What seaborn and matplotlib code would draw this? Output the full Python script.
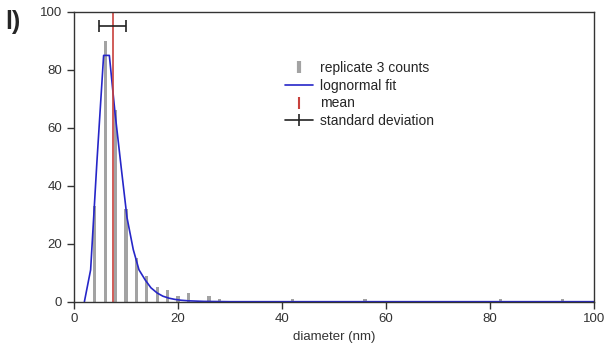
import numpy as np
import pandas as pd
import seaborn as sns
import matplotlib.pyplot as plt
from matplotlib.lines import Line2D

# histogram counts (replicate 3)
diam = [4, 6, 8, 10, 12, 14, 16, 18, 20, 22, 26, 28, 42, 56, 82, 94]
counts = [33, 90, 66, 32, 15, 9, 5, 4, 2, 3, 2, 1, 1, 1, 1, 1]

# lognormal fit curve
fit_x = [2.0, 3.2, 4.4, 5.7, 6.8, 7.9, 9.1, 10.2, 11.4, 12.5, 13.7, 14.8, 16.0,
         17.1, 18.3, 19.4, 20.6, 22.0, 25.0, 30.0, 40.0, 60.0, 80.0, 100.0]
fit_y = [0, 11, 48, 85, 85, 65, 46, 29, 18, 11, 7.5, 4.8, 3.0,
         1.9, 1.2, 0.8, 0.5, 0.3, 0.1, 0, 0, 0, 0, 0]

mean_d = 7.45
std_d = 2.58
std_y = 95

sns.set_theme(style="ticks")
plt.rcParams["font.family"] = ["Liberation Sans", "DejaVu Sans"]

fig = plt.figure(figsize=(6.08, 3.62), dpi=100)
ax = fig.add_axes([0.1217, 0.1666, 0.855, 0.8004])

bars = pd.DataFrame({"d": diam, "n": counts})
sns.barplot(data=bars, x="d", y="n", native_scale=True, width=0.32,
            color="#a3a3a3", saturation=1, linewidth=0, ax=ax)

fit = pd.DataFrame({"d": fit_x, "f": fit_y})
sns.lineplot(data=fit, x="d", y="f", color="#2626c8", linewidth=1.2, ax=ax)

ax.axvline(mean_d, color="#c8413c", linewidth=1.2)
ax.errorbar(mean_d, std_y, xerr=std_d, fmt="none", ecolor="#222222",
            elinewidth=1.2, capsize=4, capthick=1.2)

ax.set_xlim(0, 100)
ax.set_ylim(0, 100)
ax.set_xticks([0, 20, 40, 60, 80, 100])
ax.set_yticks([0, 20, 40, 60, 80, 100])
ax.set_xlabel("diameter (nm)", fontsize=9.5, color="#333333")
ax.set_ylabel("")
ax.tick_params(labelsize=9.5, colors="#333333", length=5, width=1)
for s in ax.spines.values():
    s.set_color("#333333")
    s.set_linewidth(1)

handles = [
    Line2D([], [], color="#a3a3a3", marker="|", markersize=8, mew=3, linestyle="none"),
    Line2D([], [], color="#2626c8", linewidth=1.2),
    Line2D([], [], color="#c8413c", marker="|", markersize=8, mew=1.5, linestyle="none"),
    Line2D([], [], color="#222222", linewidth=1.2, marker="|", markersize=8, mew=1.2),
]
labels = ["replicate 3 counts", "lognormal fit", "mean", "standard deviation"]
fig.legend(handles, labels, loc="upper left", bbox_to_anchor=(0.458, 0.85),
           frameon=False, fontsize=10, handlelength=2.0, handletextpad=0.5,
           labelspacing=0.26, borderpad=0)

fig.text(0.008, 0.972, "l)", fontsize=18, fontweight="bold", va="top", ha="left")

fig.savefig("out.png", dpi=100)
